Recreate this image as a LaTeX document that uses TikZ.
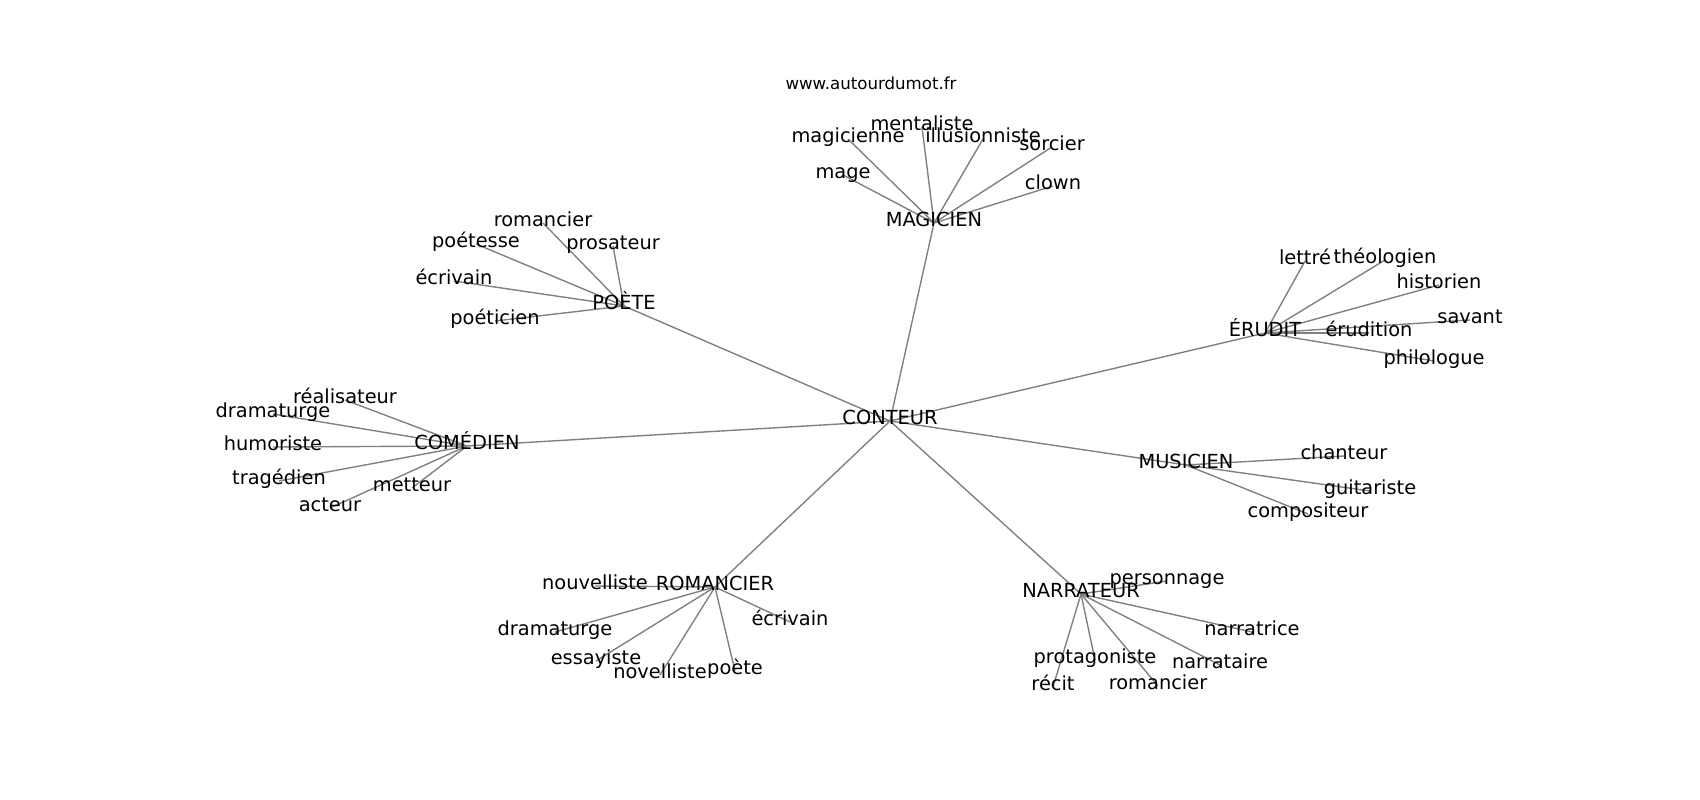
\documentclass[tikz,border=0pt]{standalone}
\usepackage{fontspec}
\setmainfont{DejaVu Sans}
\usetikzlibrary{backgrounds}

\begin{document}
\begin{tikzpicture}[x=0.01in,y=-0.01in]
  \tikzset{word/.style={inner sep=0pt,text height=0.76em,text depth=0.24em,font=\fontsize{14}{17}\selectfont},
    link/.style={draw=gray,line width=1bp}}
  \useasboundingbox (0,0) rectangle (1700,800);

  \begin{scope}[yshift=-0.03in]
  \node[word,font=\fontsize{12}{14}\selectfont] (site) at (871,83) {www.autourdumot.fr};

  % centre and the seven groups
  \node[word] (conteur) at (890,418) {CONTEUR};
  \node[word] (magicien) at (934,220) {MAGICIEN};
  \node[word] (poete) at (624,303) {POÈTE};
  \node[word] (erudit) at (1265,330) {ÉRUDIT};
  \node[word] (comedien) at (467,443) {COMÉDIEN};
  \node[word] (musicien) at (1186,462) {MUSICIEN};
  \node[word] (romancier) at (715,584) {ROMANCIER};
  \node[word] (narrateur) at (1081,591) {NARRATEUR};

  % magicien
  \node[word] (mag-mentaliste) at (922,124) {mentaliste};
  \node[word] (mag-magicienne) at (848,136) {magicienne};
  \node[word] (mag-illusionniste) at (983,136) {illusionniste};
  \node[word] (mag-sorcier) at (1052,144) {sorcier};
  \node[word] (mag-mage) at (843,172) {mage};
  \node[word] (mag-clown) at (1053,183) {clown};

  % poete
  \node[word] (poe-romancier) at (543,220) {romancier};
  \node[word] (poe-poetesse) at (476,241) {poétesse};
  \node[word] (poe-prosateur) at (613,243) {prosateur};
  \node[word] (poe-ecrivain) at (454,278) {écrivain};
  \node[word] (poe-poeticien) at (495,318) {poéticien};

  % erudit
  \node[word] (eru-lettre) at (1305,258) {lettré};
  \node[word] (eru-theologien) at (1385,257) {théologien};
  \node[word] (eru-historien) at (1439,282) {historien};
  \node[word] (eru-savant) at (1470,317) {savant};
  \node[word] (eru-erudition) at (1369,330) {érudition};
  \node[word] (eru-philologue) at (1434,358) {philologue};

  % comedien
  \node[word] (com-realisateur) at (345,397) {réalisateur};
  \node[word] (com-dramaturge) at (273,411) {dramaturge};
  \node[word] (com-humoriste) at (273,444) {humoriste};
  \node[word] (com-tragedien) at (279,478) {tragédien};
  \node[word] (com-metteur) at (412,485) {metteur};
  \node[word] (com-acteur) at (330,505) {acteur};

  % musicien
  \node[word] (mus-chanteur) at (1344,453) {chanteur};
  \node[word] (mus-guitariste) at (1370,488) {guitariste};
  \node[word] (mus-compositeur) at (1308,511) {compositeur};

  % romancier
  \node[word] (rom-nouvelliste) at (595,583) {nouvelliste};
  \node[word] (rom-dramaturge) at (555,629) {dramaturge};
  \node[word] (rom-ecrivain) at (790,619) {écrivain};
  \node[word] (rom-essayiste) at (596,658) {essayiste};
  \node[word] (rom-novelliste) at (660,672) {novelliste};
  \node[word] (rom-poete) at (735,668) {poète};

  % narrateur
  \node[word] (nar-personnage) at (1167,578) {personnage};
  \node[word] (nar-narratrice) at (1252,629) {narratrice};
  \node[word] (nar-protagoniste) at (1095,657) {protagoniste};
  \node[word] (nar-narrataire) at (1220,662) {narrataire};
  \node[word] (nar-recit) at (1053,684) {récit};
  \node[word] (nar-romancier) at (1158,683) {romancier};
  \end{scope}

  \begin{scope}[on background layer]
    \foreach \w in {magicien,poete,erudit,comedien,musicien,romancier,narrateur}
      \draw[link] (conteur.center) -- (\w.center);
    \foreach \w in {mentaliste,magicienne,illusionniste,sorcier,mage,clown}
      \draw[link] (magicien.center) -- (mag-\w.center);
    \foreach \w in {romancier,poetesse,prosateur,ecrivain,poeticien}
      \draw[link] (poete.center) -- (poe-\w.center);
    \foreach \w in {lettre,theologien,historien,savant,erudition,philologue}
      \draw[link] (erudit.center) -- (eru-\w.center);
    \foreach \w in {realisateur,dramaturge,humoriste,tragedien,metteur,acteur}
      \draw[link] (comedien.center) -- (com-\w.center);
    \foreach \w in {chanteur,guitariste,compositeur}
      \draw[link] (musicien.center) -- (mus-\w.center);
    \foreach \w in {nouvelliste,dramaturge,ecrivain,essayiste,novelliste,poete}
      \draw[link] (romancier.center) -- (rom-\w.center);
    \foreach \w in {personnage,narratrice,protagoniste,narrataire,recit,romancier}
      \draw[link] (narrateur.center) -- (nar-\w.center);
  \end{scope}
\end{tikzpicture}
\end{document}
